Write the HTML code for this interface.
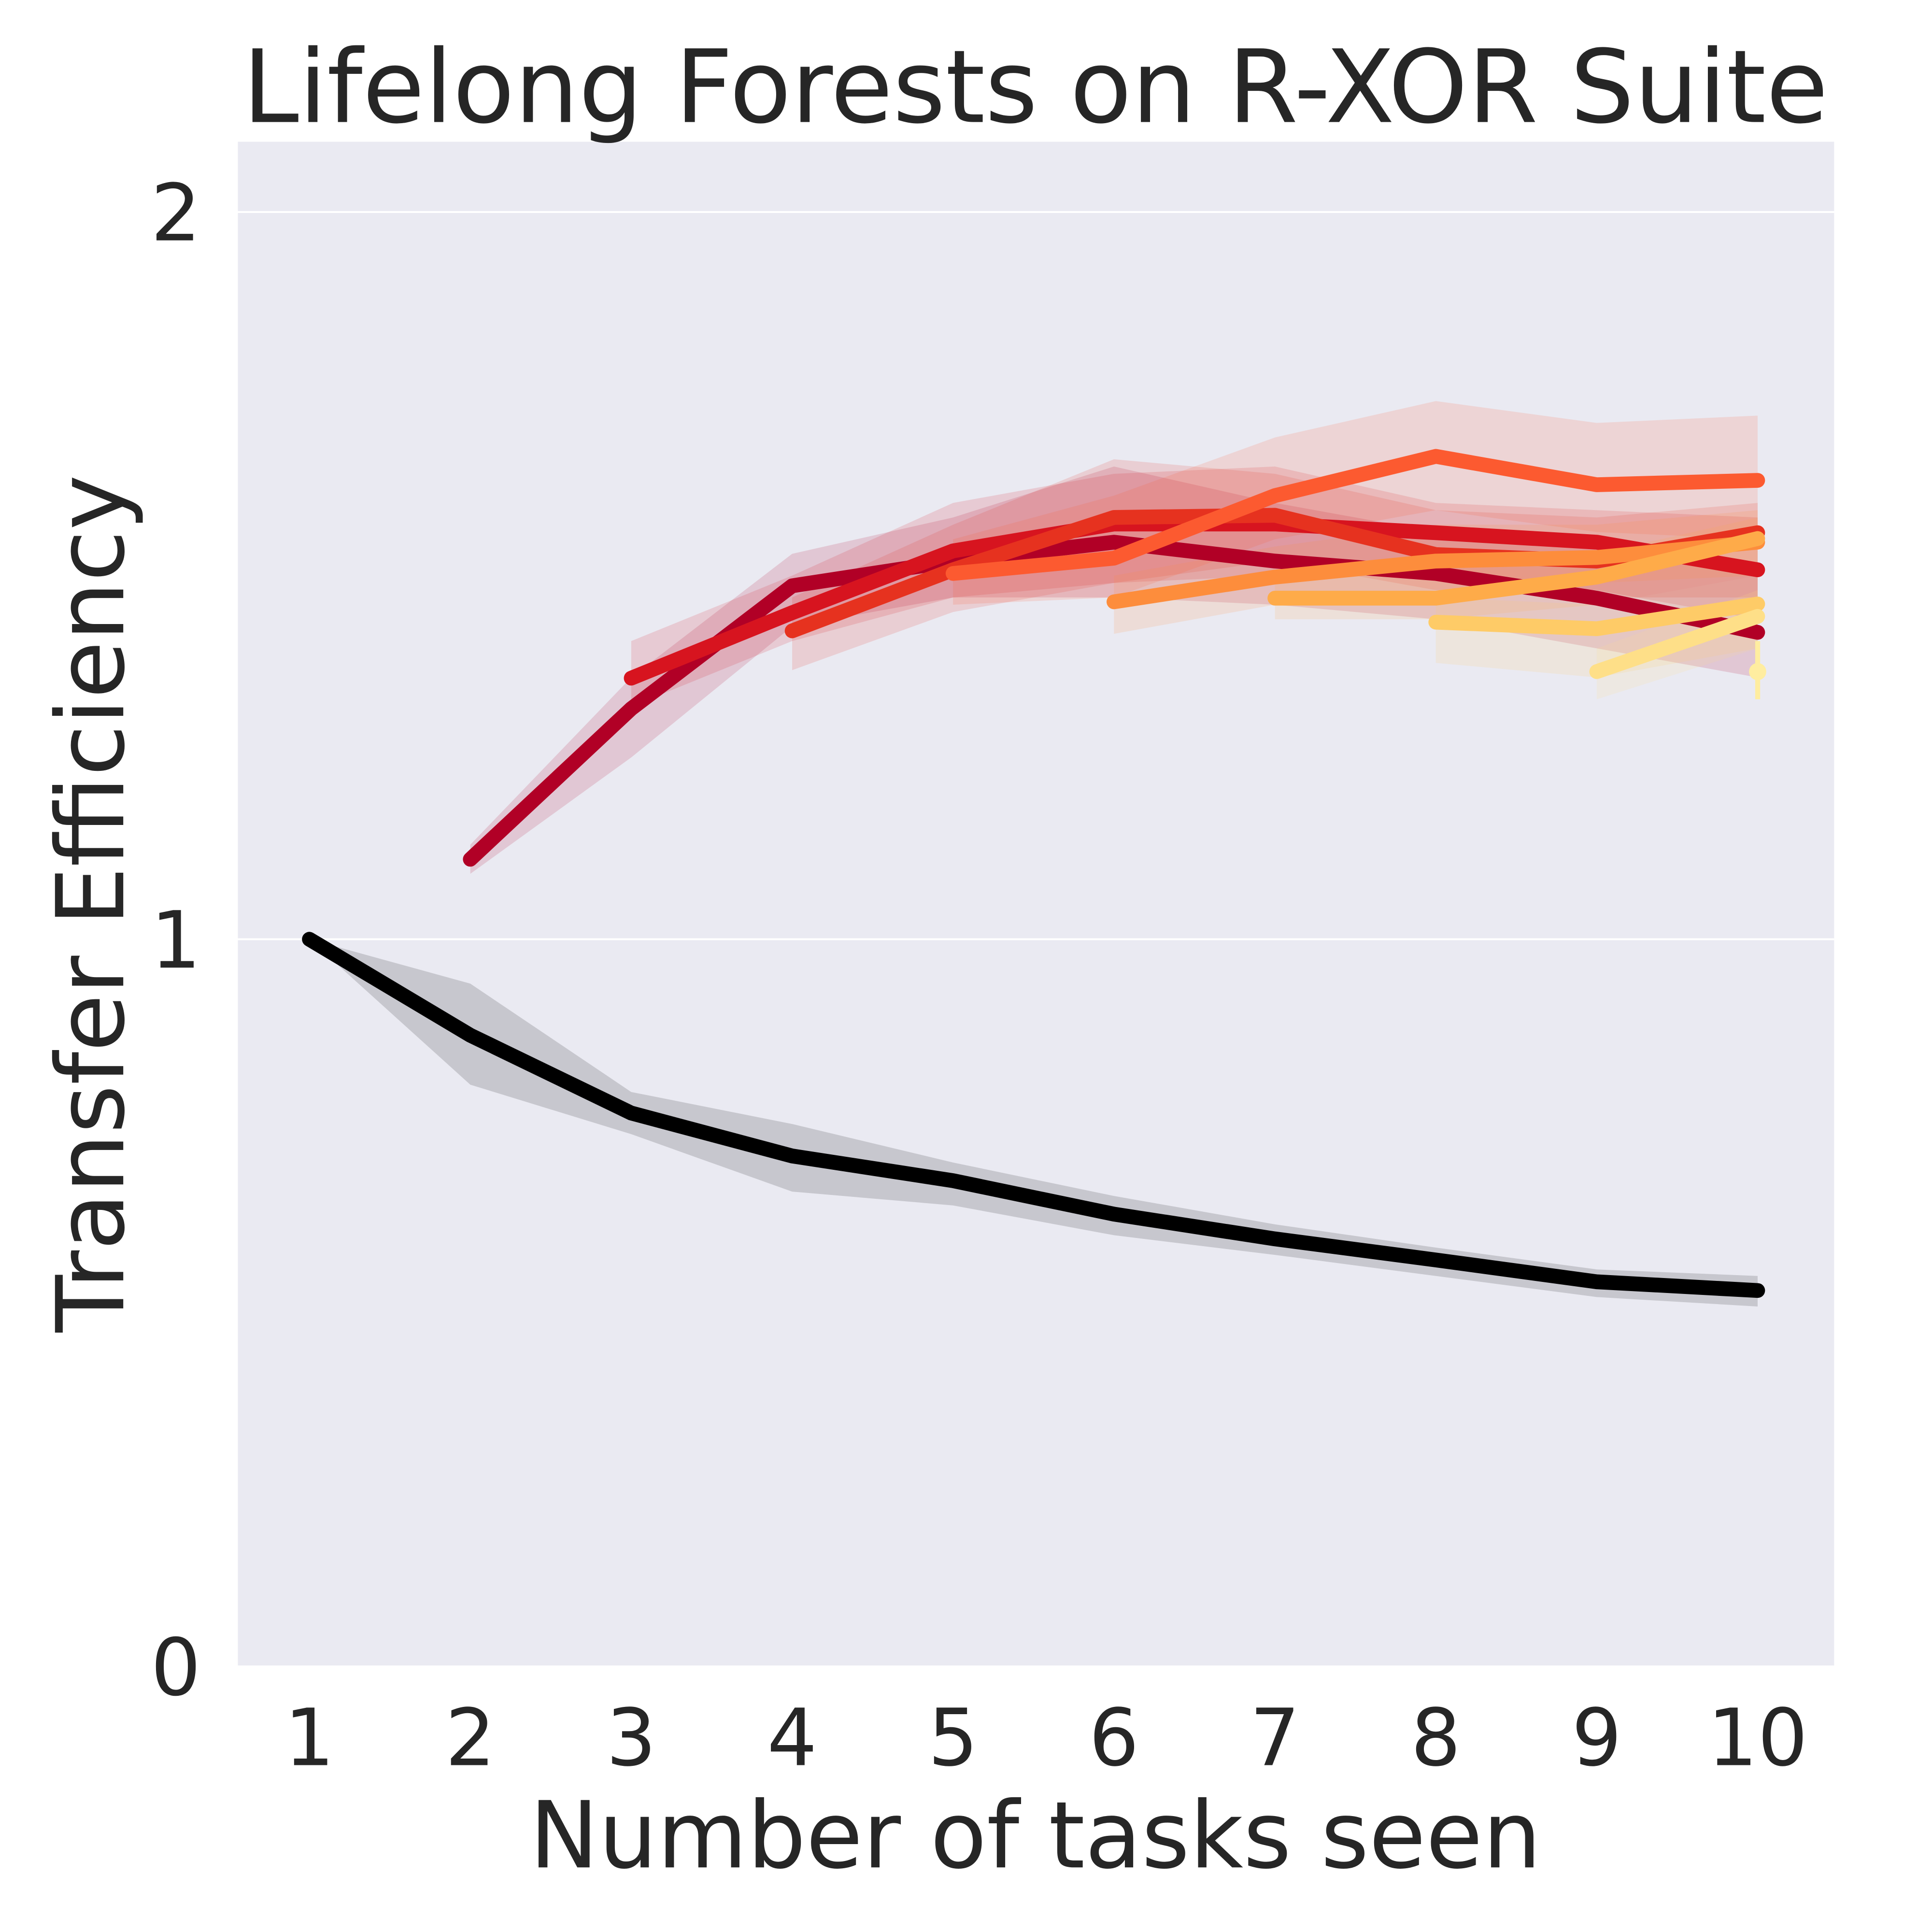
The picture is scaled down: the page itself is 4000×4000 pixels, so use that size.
<!DOCTYPE html>
<html><head><meta charset="utf-8"><style>html,body{margin:0;padding:0;background:#fff}svg{display:block}</style></head>
<body>
<svg id="chart" width="4000" height="4000" viewBox="0 0 1567.4 1567.4" xmlns="http://www.w3.org/2000/svg" font-family="'DejaVu Sans','Liberation Sans',sans-serif">
<rect x="193" y="115" width="1295" height="1237" fill="#eaeaf2"/>
<g id="grid"></g>
<g id="bands"></g>
<g id="lines"></g>
<g id="ticks" fill="#262626" font-size="64"></g>
<text x="840" y="99" text-anchor="middle" font-size="82" fill="#262626">Lifelong Forests on R-XOR Suite</text>
<text x="840" y="1515" text-anchor="middle" font-size="75" fill="#262626">Number of tasks seen</text>
<text transform="translate(100,733) rotate(-90)" text-anchor="middle" font-size="76" fill="#262626">Transfer Efficiency</text>
</svg>
<script>
const xTicks=[1,2,3,4,5,6,7,8,9,10];
const yTicks=[0,1,2];
const backMean=[1.0,0.868,0.761,0.702,0.668,0.622,0.588,0.559,0.529,0.517];
const backUpper=[1.0,0.939,0.790,0.746,0.693,0.647,0.608,0.576,0.546,0.537];
const backLower=[1.0,0.800,0.732,0.653,0.634,0.593,0.566,0.537,0.508,0.495];
const fteStarts=[2,3,4,5,6,7,8,9];
const fteMeans=[
[1.110,1.317,1.486,1.520,1.546,1.520,1.503,1.469,1.422],
[1.359,1.449,1.534,1.571,1.571,1.559,1.546,1.508],
[1.424,1.508,1.580,1.583,1.529,1.520,1.559],
[1.503,1.524,1.610,1.664,1.625,1.631],
[1.464,1.498,1.520,1.525,1.546],
[1.469,1.469,1.498,1.551],
[1.436,1.427,1.461],
[1.368,1.444]];
const fteUpper=[
[1.13,1.36,1.53,1.58,1.65,1.60,1.56,1.54,1.50],
[1.41,1.50,1.60,1.64,1.65,1.60,1.59,1.58],
[1.47,1.57,1.66,1.64,1.59,1.58,1.60],
[1.55,1.61,1.69,1.74,1.71,1.72],
[1.50,1.54,1.57,1.57,1.59],
[1.50,1.51,1.53,1.58],
[1.47,1.46,1.50],
[1.40,1.48]];
const fteLower=[
[1.09,1.25,1.43,1.47,1.47,1.46,1.44,1.40,1.36],
[1.32,1.41,1.47,1.49,1.50,1.50,1.48,1.44],
[1.37,1.45,1.49,1.52,1.48,1.47,1.47],
[1.46,1.47,1.55,1.59,1.56,1.55],
[1.42,1.46,1.48,1.49,1.50],
[1.44,1.44,1.46,1.50],
[1.38,1.36,1.40],
[1.33,1.40]];
const lastPoint=[10,1.368,1.33,1.41];
const colors=['#b10026','#d7141f','#e6321f','#fc5a30','#fd8d3c','#feab49','#fecb67','#fedf88'];
const lastColor='#ffeda0';

const NS='http://www.w3.org/2000/svg';
const X=v=>251+(v-1)*130.55;
const Y=v=>1352-590*v;
function mk(tag,attrs,parent){const e=document.createElementNS(NS,tag);for(const k in attrs)e.setAttribute(k,attrs[k]);parent.appendChild(e);return e;}
const grid=document.getElementById('grid'),bands=document.getElementById('bands'),lines=document.getElementById('lines'),ticks=document.getElementById('ticks');
yTicks.forEach(t=>{
  const g=mk('line',{x1:193,x2:1488,y1:Y(t),y2:Y(t),stroke:'#fff','stroke-width':1.6},grid);
  
  
  const l=mk('text',{x:163,y:Y(t)+23,'text-anchor':'end'},ticks);l.textContent=t;
  
  
});
xTicks.forEach(t=>{
  const l=mk('text',{x:X(t),y:1432,'text-anchor':'middle'},ticks);l.textContent=t;
  
  
});
function bandPath(xs,up,lo){let d='';xs.forEach((x,i)=>{d+=(i?'L':'M')+X(x)+','+Y(up[i]);});for(let i=xs.length-1;i>=0;i--)d+='L'+X(xs[i])+','+Y(lo[i]);return d+'Z';}
function linePts(xs,m){return xs.map((x,i)=>X(x)+','+Y(m[i])).join(' ');}
let xs=xTicks;
const bb=mk('path',{d:bandPath(xs,backUpper,backLower),fill:'#000','fill-opacity':0.15},bands);


fteStarts.forEach((s,k)=>{
  const xx=fteMeans[k].map((_,i)=>s+i);
  const b=mk('path',{d:bandPath(xx,fteUpper[k],fteLower[k]),fill:colors[k],'fill-opacity':0.15},bands);
  
  
});
const bl=mk('polyline',{points:linePts(xs,backMean),fill:'none',stroke:'#000','stroke-width':12,'stroke-linecap':'round','stroke-linejoin':'round'},lines);


fteStarts.forEach((s,k)=>{
  const xx=fteMeans[k].map((_,i)=>s+i);
  const p=mk('polyline',{points:linePts(xx,fteMeans[k]),fill:'none',stroke:colors[k],'stroke-width':12,'stroke-linecap':'round','stroke-linejoin':'round'},lines);
  
  
});
const eb=mk('line',{x1:X(lastPoint[0]),x2:X(lastPoint[0]),y1:Y(lastPoint[2]),y2:Y(lastPoint[3]),stroke:lastColor,'stroke-width':4},lines);


const pt=mk('circle',{cx:X(lastPoint[0]),cy:Y(lastPoint[1]),r:7,fill:lastColor},lines);


</script>
</body></html>
